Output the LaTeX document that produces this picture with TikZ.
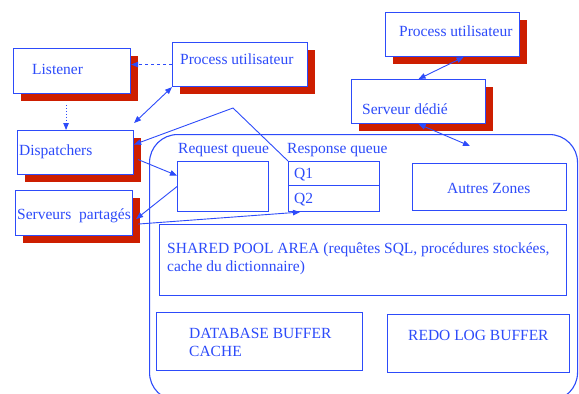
\documentclass[tikz,border=0pt]{standalone}
\usepackage{fontspec}
\setmainfont{Liberation Serif}
\usetikzlibrary{arrows.meta,shadows}
\definecolor{ink}{RGB}{45,75,250}
\definecolor{shade}{RGB}{205,30,0}
\tikzset{
  box/.style={draw=ink, line width=1.1pt, fill=white, rectangle, inner sep=0pt, anchor=north west},
  shbox/.style={box, general shadow={fill=shade, shadow xshift=7pt, shadow yshift=-7pt}},
  txt/.style={text=ink, font=\fontsize{15.5}{18}\selectfont, inner sep=0pt, anchor=base west},
  link/.style={draw=ink, line width=0.9pt},
  tip/.style={-{Triangle[length=7pt,width=5.5pt]}},
  tips/.style={{Triangle[length=7pt,width=5.5pt]}-{Triangle[length=7pt,width=5.5pt]}},
}
\begin{document}
\begin{tikzpicture}[x=1pt,y=-1pt]
\useasboundingbox (0,0) rectangle (579,394);
\clip (0,0) rectangle (579,394);

% System global area
\node[box, rounded corners=28pt, minimum width=428pt, minimum height=266pt] (sga) at (149,134) {};

% Processes and servers outside the SGA
\node[shbox, minimum width=117pt, minimum height=45pt] (listener) at (13,48) {};
\node[txt] (listenerT) at (32,74) {Listener};
\node[shbox, minimum width=135pt, minimum height=44pt] (procL) at (172,42) {};
\node[txt] (procLT) at (180,64) {Process utilisateur};
\node[shbox, minimum width=116pt, minimum height=44pt] (disp) at (17,130) {};
\node[txt] (dispT) at (19,155) {Dispatchers};
\node[shbox, minimum width=117pt, minimum height=45pt] (serv) at (15,190) {};
\node[txt] (servT) at (17,219) {Serveurs\ \ partagés};
\node[shbox, minimum width=134pt, minimum height=44pt] (procR) at (385,12) {};
\node[txt] (procRT) at (399,36) {Process utilisateur};
\node[shbox, minimum width=134pt, minimum height=44pt] (dedie) at (351,79) {};
\node[txt] (dedieT) at (362,114) {Serveur dédié};

% Queues
\node[box, minimum width=91pt, minimum height=50pt] (rq) at (177,161) {};
\node[txt] (rqT) at (178,153) {Request queue};
\node[box, minimum width=91pt, minimum height=24pt] (q1) at (288,161) {};
\node[box, minimum width=91pt, minimum height=26pt] (q2) at (288,185) {};
\node[txt] (respT) at (287,153) {Response queue};
\node[txt] (q1T) at (294,178) {Q1};
\node[txt] (q2T) at (294,203) {Q2};

% Memory areas
\node[box, minimum width=154pt, minimum height=47pt] (autres) at (412,163) {};
\node[txt] (autresT) at (447,193) {Autres Zones};
\node[box, minimum width=407pt, minimum height=71pt] (shared) at (159,224) {};
\node[txt] (sharedT1) at (167,253) {SHARED POOL AREA (requêtes SQL, procédures stockées,};
\node[txt] (sharedT2) at (167,271) {cache du dictionnaire)};
\node[box, minimum width=206pt, minimum height=58pt] (dbc) at (156,312) {};
\node[txt] (dbcT1) at (189,338) {DATABASE BUFFER};
\node[txt] (dbcT2) at (189,356) {CACHE};
\node[box, minimum width=182pt, minimum height=58pt] (redo) at (387,314) {};
\node[txt] (redoT) at (408,340) {REDO LOG BUFFER};

% Connectors
\coordinate (bend) at (233,108);
\coordinate (zone) at (470,146);
\draw[link, dashed, tip] (procL.west) -- (procL.west -| listener.east);
\draw[link, dotted, tip] ([xshift=-6pt,yshift=-11pt]listener.south) -- ([xshift=-6pt]listener.south |- disp.north);
\draw[link, tips] (procL.south west) -- ([yshift=7pt]disp.north east);
\draw[link, tip] (q1.north west) -- (bend) -- ([yshift=8pt]disp.east);
\draw[link, tip] ([xshift=4pt,yshift=-7pt]disp.east) -- ([yshift=11pt]rq.west);
\draw[link, tip] (rq.west) -- ([xshift=3pt,yshift=-6pt]serv.east);
\draw[link, tip] ([xshift=5pt,yshift=-11pt]serv.east) -- ([xshift=12pt]q2.south west);
\draw[link, tips] ([xshift=11pt]procR.south) -- (dedie.north);
\draw[link, tips] (dedie.south) -- (zone);
\end{tikzpicture}
\end{document}
